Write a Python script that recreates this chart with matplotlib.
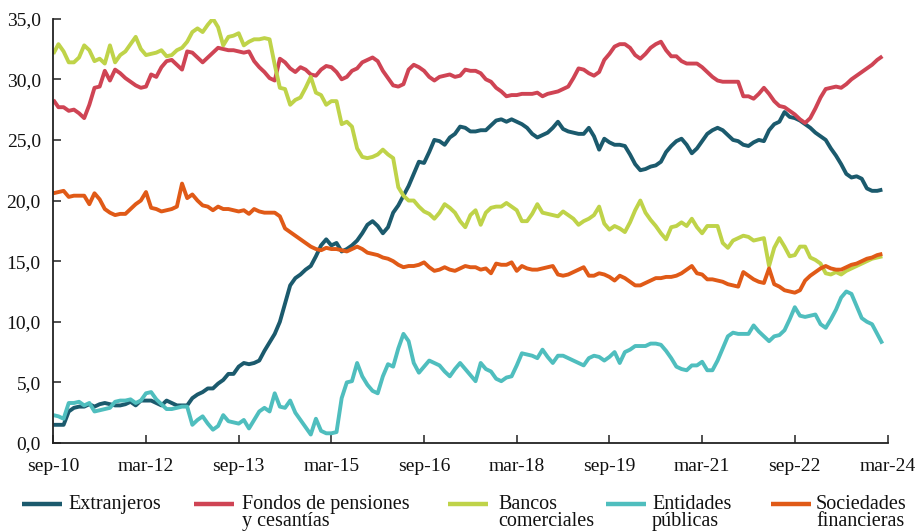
import numpy as np
import matplotlib
matplotlib.use("Agg")
import matplotlib.pyplot as plt
from matplotlib.lines import Line2D

# ---------------- data (monthly, sep-10 .. feb-24) ----------------
tick_labels = ["sep-10", "mar-12", "sep-13", "mar-15", "sep-16",
               "mar-18", "sep-19", "mar-21", "sep-22", "mar-24"]

series_names = ["Extranjeros", "Fondos de pensiones\ny cesantías",
                "Bancos\ncomerciales", "Entidades\npúblicas",
                "Sociedades\nfinancieras"]

extranjeros = [
    1.5, 1.5, 1.5, 2.6, 2.9, 3.0, 3.0, 3.2, 3.0, 3.2,
    3.3, 3.2, 3.1, 3.1, 3.2, 3.4, 3.1, 3.5, 3.5, 3.5,
    3.3, 3.1, 3.5, 3.3, 3.1, 3.1, 3.1, 3.7, 4.0, 4.2,
    4.5, 4.5, 4.9, 5.2, 5.7, 5.7, 6.3, 6.6, 6.5, 6.6,
    6.8, 7.6, 8.3, 9.0, 10.0, 11.5, 13.0, 13.6, 13.9, 14.3,
    14.6, 15.4, 16.3, 16.8, 16.3, 16.5, 15.8, 16.0, 16.3, 16.7,
    17.3, 18.0, 18.3, 17.9, 17.3, 17.8, 19.0, 19.6, 20.4, 21.2,
    22.2, 23.2, 23.1, 24.0, 25.0, 24.9, 24.6, 25.2, 25.5, 26.1,
    26.0, 25.7, 25.7, 25.8, 25.8, 26.2, 26.6, 26.7, 26.5, 26.7,
    26.5, 26.3, 26.0, 25.5, 25.2, 25.4, 25.6, 26.0, 26.5, 25.9,
    25.7, 25.6, 25.5, 25.5, 26.0, 25.3, 24.2, 25.1, 24.8, 24.6,
    24.6, 24.5, 23.8, 23.0, 22.5, 22.6, 22.8, 22.9, 23.2, 24.0,
    24.5, 24.9, 25.1, 24.6, 23.9, 24.3, 24.9, 25.5, 25.8, 26.0,
    25.8, 25.4, 25.0, 24.9, 24.6, 24.5, 24.8, 25.0, 24.9, 25.8,
    26.3, 26.5, 27.3, 26.9, 26.8, 26.6, 26.3, 26.0, 25.6, 25.3,
    25.0, 24.3, 23.7, 23.0, 22.2, 21.9, 22.0, 21.8, 21.0, 20.8,
    20.8, 20.9]

fondos = [
    28.3, 27.7, 27.7, 27.4, 27.5, 27.2, 26.8, 27.9, 29.3, 29.4,
    30.7, 29.9, 30.8, 30.5, 30.1, 29.8, 29.5, 29.3, 29.4, 30.4,
    30.2, 31.0, 31.5, 31.6, 31.2, 30.8, 32.3, 32.2, 31.8, 31.4,
    31.8, 32.2, 32.6, 32.5, 32.4, 32.4, 32.3, 32.2, 32.3, 31.5,
    31.0, 30.6, 30.1, 29.9, 31.7, 31.4, 30.9, 30.6, 31.0, 30.8,
    30.4, 30.3, 30.8, 31.1, 31.0, 30.6, 30.0, 30.2, 30.7, 30.9,
    31.4, 31.6, 31.8, 31.5, 30.7, 30.1, 29.5, 29.4, 29.6, 30.8,
    31.2, 31.0, 30.7, 30.2, 29.9, 30.2, 30.3, 30.4, 30.2, 30.3,
    30.8, 30.7, 30.7, 30.5, 30.0, 29.8, 29.3, 29.0, 28.6, 28.7,
    28.7, 28.8, 28.8, 28.8, 28.9, 28.6, 28.8, 28.9, 29.0, 29.2,
    29.4, 30.1, 30.9, 30.8, 30.5, 30.3, 30.6, 31.6, 32.1, 32.7,
    32.9, 32.9, 32.6, 32.0, 31.7, 32.1, 32.6, 32.9, 33.1, 32.4,
    31.9, 31.9, 31.5, 31.3, 31.3, 31.3, 31.0, 30.6, 30.2, 29.9,
    29.8, 29.8, 29.8, 29.8, 28.6, 28.6, 28.4, 28.8, 29.3, 28.8,
    28.2, 27.8, 27.7, 27.4, 27.1, 26.7, 26.4, 26.8, 27.6, 28.5,
    29.2, 29.3, 29.4, 29.3, 29.6, 30.0, 30.3, 30.6, 30.9, 31.2,
    31.6, 31.9]

bancos = [
    32.1, 32.9, 32.3, 31.4, 31.4, 31.8, 32.8, 32.4, 31.5, 31.7,
    31.3, 32.8, 31.4, 32.0, 32.3, 32.9, 33.5, 32.5, 32.0, 32.1,
    32.2, 32.4, 31.9, 32.0, 32.4, 32.6, 33.1, 33.9, 34.2, 33.9,
    34.5, 35.0, 34.3, 32.8, 33.5, 33.6, 33.8, 32.8, 33.1, 33.3,
    33.3, 33.4, 33.3, 31.2, 29.3, 29.2, 27.9, 28.3, 28.5, 29.3,
    30.2, 28.9, 28.7, 27.9, 28.2, 28.2, 26.3, 26.5, 26.1, 24.3,
    23.6, 23.5, 23.6, 23.8, 24.2, 23.8, 23.5, 21.1, 20.4, 20.0,
    20.0, 19.5, 19.1, 18.9, 18.5, 19.0, 19.7, 19.4, 19.0, 18.3,
    17.8, 18.8, 19.2, 18.0, 19.0, 19.4, 19.5, 19.5, 19.8, 19.5,
    19.2, 18.3, 18.3, 18.9, 19.7, 19.0, 18.9, 18.8, 18.7, 19.1,
    18.8, 18.5, 18.0, 18.3, 18.5, 18.8, 19.5, 18.1, 17.6, 17.9,
    17.7, 17.4, 18.2, 19.2, 20.0, 19.0, 18.4, 17.9, 17.3, 16.8,
    17.8, 17.9, 18.2, 17.9, 18.5, 17.8, 17.3, 17.9, 17.9, 17.9,
    16.5, 16.1, 16.7, 16.9, 17.1, 17.0, 16.7, 16.8, 16.9, 14.6,
    16.1, 16.9, 16.2, 15.4, 15.5, 16.2, 16.2, 15.3, 15.1, 14.8,
    14.0, 13.9, 14.1, 13.9, 14.2, 14.4, 14.6, 14.8, 15.0, 15.2,
    15.3, 15.4]

entidades = [
    2.3, 2.2, 2.0, 3.3, 3.3, 3.4, 3.1, 3.3, 2.6, 2.7,
    2.8, 2.9, 3.4, 3.5, 3.5, 3.6, 3.3, 3.5, 4.1, 4.2,
    3.6, 3.2, 2.8, 2.8, 2.9, 3.0, 3.0, 1.5, 1.9, 2.2,
    1.6, 1.1, 1.4, 2.3, 1.8, 1.7, 1.6, 1.9, 1.2, 1.9,
    2.6, 2.9, 2.6, 4.1, 3.0, 2.9, 3.5, 2.5, 1.9, 1.3,
    0.7, 2.0, 1.0, 0.8, 0.8, 0.9, 3.7, 5.0, 5.1, 6.6,
    5.5, 4.8, 4.3, 4.1, 5.5, 6.5, 6.3, 7.8, 9.0, 8.4,
    6.6, 5.8, 6.3, 6.8, 6.6, 6.4, 5.9, 5.5, 6.1, 6.6,
    6.1, 5.6, 5.1, 6.6, 6.1, 5.9, 5.3, 5.1, 5.4, 5.5,
    6.4, 7.4, 7.3, 7.2, 7.0, 7.7, 7.1, 6.6, 7.2, 7.2,
    7.0, 6.8, 6.6, 6.4, 7.0, 7.2, 7.1, 6.8, 7.1, 7.5,
    6.6, 7.5, 7.7, 8.0, 8.0, 8.0, 8.2, 8.2, 8.1, 7.6,
    7.0, 6.3, 6.1, 6.0, 6.4, 6.4, 6.7, 6.0, 6.0, 6.8,
    7.8, 8.8, 9.1, 9.0, 9.0, 9.0, 9.7, 9.2, 8.8, 8.4,
    8.8, 8.9, 9.3, 10.2, 11.2, 10.5, 10.4, 10.5, 10.6, 9.8,
    9.5, 10.2, 11.0, 12.0, 12.5, 12.3, 11.3, 10.3, 10.0, 9.8,
    9.0, 8.2]

sociedades = [
    20.6, 20.7, 20.8, 20.3, 20.4, 20.4, 20.4, 19.7, 20.6, 20.1,
    19.3, 19.0, 18.8, 18.9, 18.9, 19.3, 19.7, 20.0, 20.7, 19.4,
    19.3, 19.1, 19.2, 19.3, 19.5, 21.4, 20.2, 20.5, 20.0, 19.6,
    19.5, 19.2, 19.5, 19.3, 19.3, 19.2, 19.1, 19.2, 18.9, 19.3,
    19.1, 19.0, 19.0, 19.0, 18.7, 17.7, 17.4, 17.1, 16.8, 16.5,
    16.2, 16.0, 15.9, 16.1, 16.0, 16.0, 15.9, 15.8, 16.0, 16.2,
    16.0, 15.7, 15.6, 15.5, 15.3, 15.2, 15.0, 14.7, 14.5, 14.6,
    14.6, 14.7, 14.9, 14.5, 14.2, 14.3, 14.5, 14.3, 14.2, 14.4,
    14.6, 14.5, 14.5, 14.3, 14.4, 14.0, 14.8, 14.7, 14.7, 14.9,
    14.2, 14.6, 14.4, 14.3, 14.3, 14.4, 14.5, 14.6, 13.9, 13.8,
    13.9, 14.1, 14.3, 14.5, 13.8, 13.8, 14.0, 13.9, 13.7, 13.4,
    13.8, 13.6, 13.3, 13.0, 13.0, 13.2, 13.4, 13.6, 13.6, 13.7,
    13.7, 13.8, 14.0, 14.3, 14.6, 14.0, 13.9, 13.5, 13.5, 13.4,
    13.3, 13.1, 13.0, 12.9, 14.1, 13.8, 13.5, 13.3, 13.2, 14.4,
    13.1, 12.9, 12.6, 12.5, 12.4, 12.6, 13.4, 13.8, 14.1, 14.4,
    14.6, 14.4, 14.3, 14.3, 14.5, 14.7, 14.8, 15.0, 15.2, 15.3,
    15.5, 15.6]

colors = ["#1b5a6d", "#cf4454", "#bfd349", "#4fbebe", "#e05a17"]

# ---------------- figure ----------------
W, H = 921, 532
FONT = "Liberation Serif"
plt.rcParams["font.family"] = [FONT, "DejaVu Serif"]

fig = plt.figure(figsize=(W / 100, H / 100), dpi=100)
ax = fig.add_axes([53.3 / W, 1 - 443 / H, (887.5 - 53.3) / W, (443 - 18.7) / H])

all_series = [extranjeros, fondos, bancos, entidades, sociedades]
x = np.arange(len(extranjeros))
for vals, col in zip(all_series, colors):
    ax.plot(x, vals, color=col, lw=2.8, solid_joinstyle="round",
            solid_capstyle="butt")

ax.set_xlim(0, 162)
ax.set_ylim(0, 35)
ax.set_xticks(np.arange(0, 163, 18))
ax.set_xticklabels(tick_labels)
yt = np.arange(0, 36, 5)
ax.set_yticks(yt)
ax.set_yticklabels([f"{v:.1f}".replace(".", ",") for v in yt])

for s in ["top", "right"]:
    ax.spines[s].set_visible(False)
for s in ["left", "bottom"]:
    ax.spines[s].set_color("#222222")
    ax.spines[s].set_linewidth(1.3)

ax.tick_params(axis="both", direction="in", length=5.5, width=1.1,
               color="#222222", labelsize=14, labelcolor="#111111")
ax.tick_params(axis="y", pad=9)
ax.tick_params(axis="x", pad=11)

# ---------------- legend (manual, Excel-like layout) ----------------
handle_x = [(22, 62), (194, 234), (448, 488), (606, 646), (771, 811)]
text_x = [68, 242, 498, 652, 816]
hy = 1 - 504 / H
for (x0, x1), tx, name, col in zip(handle_x, text_x, series_names, colors):
    fig.add_artist(Line2D([x0 / W, x1 / W], [hy, hy], transform=fig.transFigure,
                          color=col, lw=3.2, solid_capstyle="butt"))
    fig.text(tx / W, 1 - 495 / H, name, ha="left", va="top",
             fontsize=14.5, color="#111111", linespacing=0.86)

fig.savefig("out.png", dpi=100)
